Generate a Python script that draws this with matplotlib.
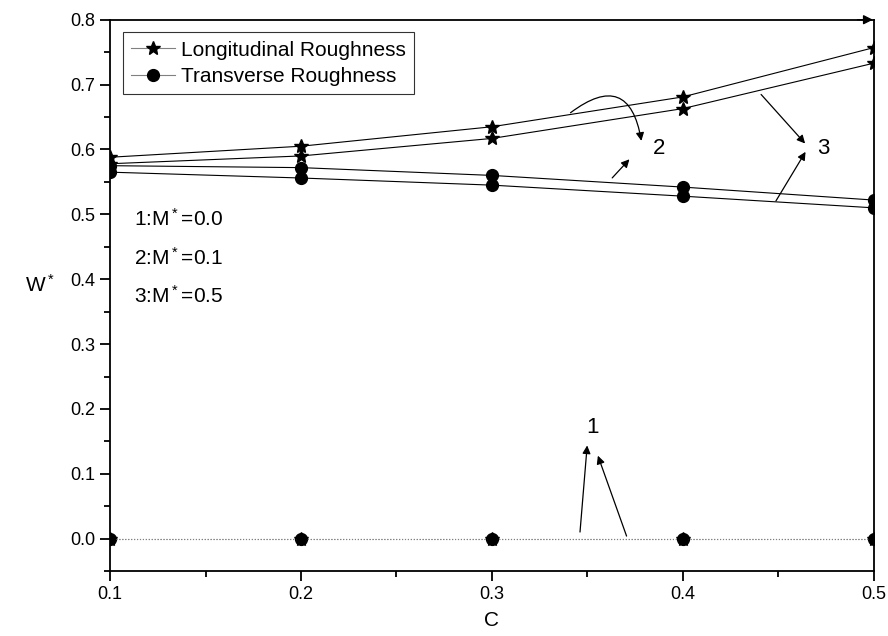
import matplotlib.pyplot as plt
from matplotlib.ticker import MultipleLocator

plt.rcParams['font.family'] = ['Liberation Sans', 'DejaVu Sans']
plt.rcParams['mathtext.default'] = 'regular'

c = [0.1, 0.2, 0.3, 0.4, 0.5]
# longitudinal roughness
long_m0 = [0.0, 0.0, 0.0, 0.0, 0.0]
long_m01 = [0.588, 0.605, 0.635, 0.681, 0.757]
long_m05 = [0.578, 0.590, 0.617, 0.663, 0.733]
# transverse roughness
trans_m0 = [0.0, 0.0, 0.0, 0.0, 0.0]
trans_m01 = [0.575, 0.572, 0.560, 0.542, 0.522]
trans_m05 = [0.565, 0.556, 0.545, 0.528, 0.510]

fig = plt.figure(figsize=(8.88, 6.36), dpi=100)
ax = fig.add_axes([0.124, 0.102, 0.86, 0.867])

lw = 0.8
ax.plot(c, long_m01, color='black', lw=lw, marker='*', ms=10)
ax.plot(c, long_m05, color='black', lw=lw, marker='*', ms=10)
ax.plot(c, trans_m01, color='black', lw=lw, marker='o', ms=8.5)
ax.plot(c, trans_m05, color='black', lw=lw, marker='o', ms=8.5)
ax.plot(c, trans_m0, color='gray', lw=0.8, ls=':', marker='o', ms=8.5, mfc='black', mec='black')
ax.plot(c, long_m0, color='gray', lw=0.8, ls=':', marker='*', ms=10, mfc='black', mec='black')

# legend handles
h1, = ax.plot([], [], color='gray', lw=lw, marker='*', ms=10, mfc='black', mec='black',
              label='Longitudinal Roughness')
h2, = ax.plot([], [], color='gray', lw=lw, marker='o', ms=8.5, mfc='black', mec='black',
              label='Transverse Roughness')
leg = ax.legend(handles=[h1, h2], loc='upper left', bbox_to_anchor=(0.0, 1.0),
                fontsize=15, frameon=True, fancybox=False, handlelength=2.1,
                borderpad=0.4, labelspacing=0.35, handletextpad=0.3, borderaxespad=0.6)
leg.get_frame().set_edgecolor('black')
leg.get_frame().set_linewidth(0.8)

ax.set_xlim(0.1, 0.5)
ax.set_ylim(-0.05, 0.8)
ax.xaxis.set_major_locator(MultipleLocator(0.1))
ax.xaxis.set_minor_locator(MultipleLocator(0.05))
ax.yaxis.set_major_locator(MultipleLocator(0.1))
ax.yaxis.set_minor_locator(MultipleLocator(0.05))
ax.xaxis.set_major_formatter(plt.FuncFormatter(lambda v, p: f'{v:.1f}'))
ax.yaxis.set_major_formatter(plt.FuncFormatter(lambda v, p: f'{v:.1f}'))
ax.tick_params(which='major', direction='out', length=7, width=1.3, labelsize=13)
ax.tick_params(which='minor', direction='out', length=4, width=1.3)
for s in ax.spines.values():
    s.set_linewidth(1.3)

ax.set_xlabel('C', fontsize=15, labelpad=6)
ax.set_ylabel('W$^*$', fontsize=15, rotation=0, labelpad=22)

# M* labels
ax.text(0.1126, 0.493, '1:M$^*$=0.0', fontsize=15, va='center')
ax.text(0.1126, 0.433, '2:M$^*$=0.1', fontsize=15, va='center')
ax.text(0.1126, 0.374, '3:M$^*$=0.5', fontsize=15, va='center')

ap = dict(arrowstyle='-|>', color='black', lw=0.9, mutation_scale=12)
ax.annotate('', xy=(0.3785, 0.609), xytext=(0.340, 0.654),
            arrowprops=dict(ap, connectionstyle='arc3,rad=-0.85'))
ax.annotate('', xy=(0.373, 0.588), xytext=(0.362, 0.553), arrowprops=ap)
ax.text(0.3845, 0.602, '2', fontsize=16, va='center')

ax.annotate('', xy=(0.465, 0.606), xytext=(0.440, 0.688), arrowprops=ap)
ax.annotate('', xy=(0.465, 0.600), xytext=(0.448, 0.517), arrowprops=ap)
ax.text(0.4705, 0.602, '3', fontsize=16, va='center')

ax.annotate('', xy=(0.350, 0.148), xytext=(0.346, 0.006), arrowprops=ap)
ax.annotate('', xy=(0.355, 0.132), xytext=(0.371, 0.0), arrowprops=ap)
ax.text(0.3525, 0.172, '1', fontsize=16, va='center', ha='center')

# corner arrowhead on the top spine
ax.annotate('', xy=(0.501, 0.8), xytext=(0.49, 0.8), annotation_clip=False,
            arrowprops=dict(arrowstyle='-|>', color='black', lw=1.0, mutation_scale=14))

fig.savefig('out.png', dpi=100)
